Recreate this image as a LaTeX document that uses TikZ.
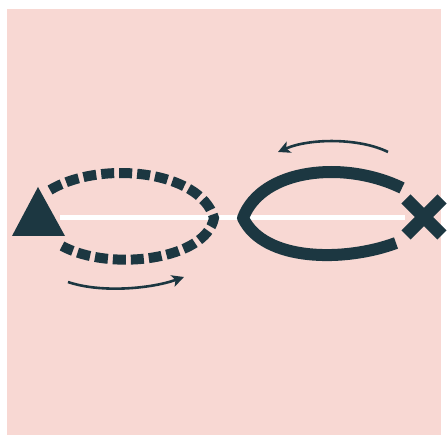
\documentclass[tikz,border=0pt]{standalone}
\usepackage{tikz}
\usetikzlibrary{arrows.meta}
\definecolor{paper}{HTML}{F8D8D3}
\definecolor{ink}{HTML}{1C3741}

\begin{document}
\begin{tikzpicture}[x=1pt, y=-1pt,
  loopd/.style={draw=ink, line width=10pt,
                dash pattern=on 13pt off 5pt},
  loops/.style={draw=ink, line width=12pt, line join=round},
  turn/.style={draw=ink, line width=2.6pt,
               -{Stealth[length=12pt, width=12pt, inset=3pt]}},
  axis/.style={draw=white, line width=5pt},
]
% ---- page and background ----
\fill[white] (0,0) rectangle (448,435);
\useasboundingbox (0,0) rectangle (448,435);
\fill[paper] (7,9) rectangle (441,435);
% ---- white axis through both halves ----
\coordinate (axL) at (60,218);
\coordinate (axR) at (405,218);
\draw[axis] (axL) -- (axR);
% ---- Left: dashed loop with triangle ----
\fill[ink] (38,187) -- (65,236) -- (12,236) -- cycle;
\draw[loopd] (50,190) .. controls (100,160) and (200,170) .. (214,218)
                      .. controls (206,260) and (110,272) .. (62,246);
\coordinate (lowA) at (68,282);
\coordinate (lowB) at (184,277);
\draw[turn] (lowA) .. controls (100,293) and (150,289) .. (lowB);
% ---- Right: solid loop with cross ----
\draw[loops] (402,188) .. controls (345,160) and (262,168) .. (243,218)
             .. controls (264,262) and (345,262) .. (396,243);
\draw[ink, line width=13pt] (406,199) -- (442,235)
                            (406,235) -- (442,199);
\coordinate (topA) at (388,152);
\coordinate (topB) at (278,152);
\draw[turn] (topA) .. controls (360,138) and (310,138) .. (topB);
\end{tikzpicture}
\end{document}
